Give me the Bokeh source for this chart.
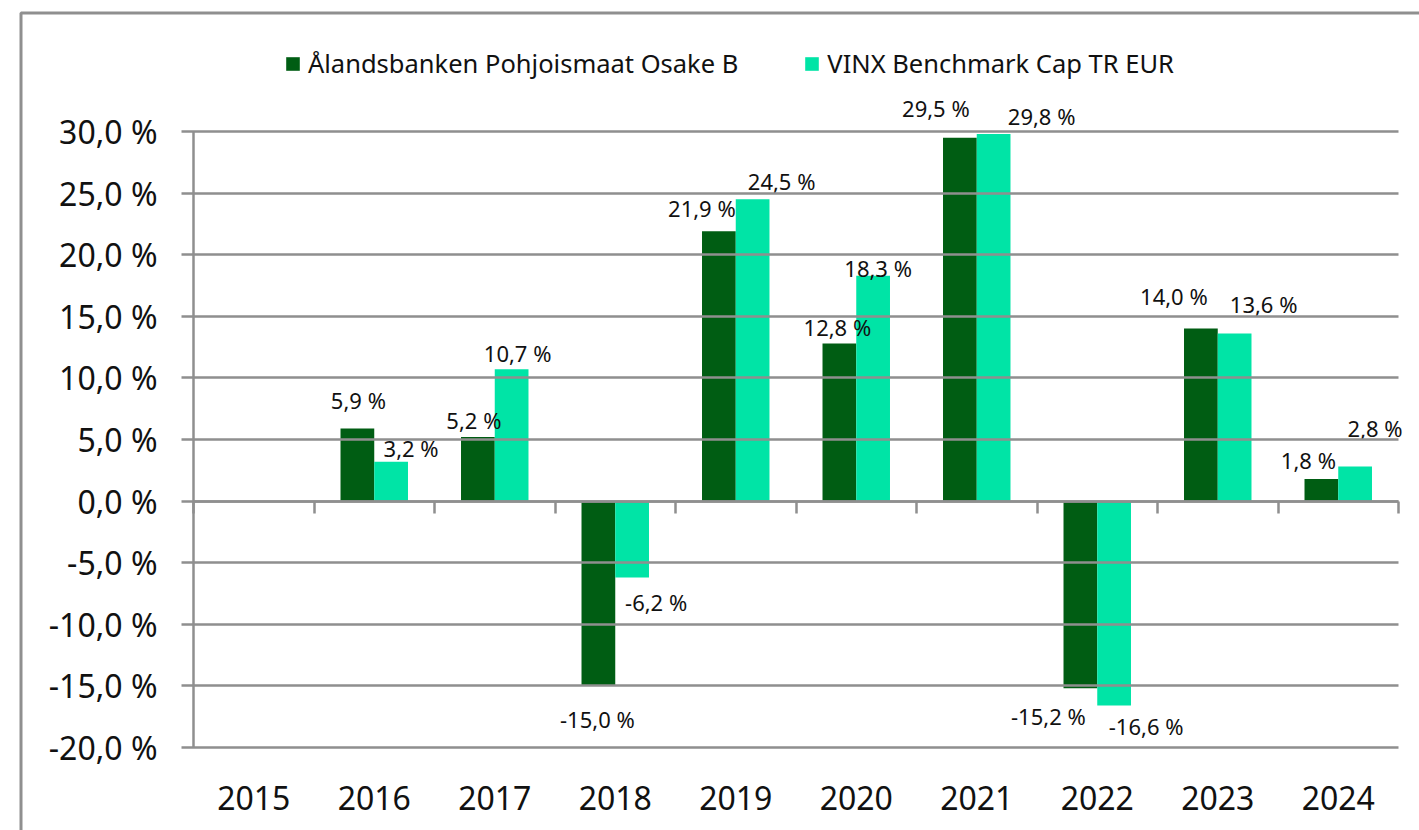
import math
from bokeh.plotting import figure
from bokeh.models import (ColumnDataSource, FixedTicker, LinearAxis, Legend, LegendItem,
                          BoxAnnotation, Range1d)
from bokeh.core.properties import value
from bokeh.embed import file_html
from bokeh.resources import INLINE

years = ["2015", "2016", "2017", "2018", "2019", "2020", "2021", "2022", "2023", "2024"]
fund = [math.nan, 5.9, 5.2, -15.0, 21.9, 12.8, 29.5, -15.2, 14.0, 1.8]
bench = [math.nan, 3.2, 10.7, -6.2, 24.5, 18.3, 29.8, -16.6, 13.6, 2.8]
fund_name = "Ålandsbanken Pohjoismaat Osake B"
bench_name = "VINX Benchmark Cap TR EUR"
y_ticks = [-20, -15, -10, -5, 0, 5, 10, 15, 20, 25, 30]

# label nudges in screen pixels (dx right, dy up) relative to bar end
fund_dx = [0, 1, -4, -1, -17, -2, -24, -32, -27, -13]
fund_dy = [0, 28, 17, -33, 23, 16, 30, -28, 33, 19]
bench_dx = [0, 20, 6, 24, 29, 5, 48, 32, 29, 20]
bench_dy = [0, 14, 16, -25, 18, 8, 18, -20, 30, 39]

DARK = "#005D13"
LIGHT = "#00E4A6"
GRID = "#8f8f8f"
TXT = "#111111"
FONT = "Noto Sans"

# layout (page pixels)
W, H = 1419, 830
PLOT_L, PLOT_R = 193, 1398      # x of category 0 start / category 10 end
Y_TOP_PX, Y_BOT_PX = 131, 747   # pixel of y=30 / y=-20
YMAX, YMIN = 30, -20
NCAT = len(years)
px_per_x = (PLOT_R - PLOT_L) / NCAT
px_per_y = (Y_BOT_PX - Y_TOP_PX) / (YMAX - YMIN)
x0 = -PLOT_L / px_per_x
x1 = (W - PLOT_L) / px_per_x
y1 = YMAX + Y_TOP_PX / px_per_y
y0 = YMAX - (H - Y_TOP_PX) / px_per_y

def fmt(v):
    return ("%.1f" % v).replace(".", ",") + " %"

BW = 0.28
xs = [i + 0.5 for i in range(NCAT)]

def src(vals, off, dx, dy):
    lab = ["" if math.isnan(v) else fmt(v) for v in vals]
    return ColumnDataSource(dict(
        x=[x + off for x in xs], top=vals, label=lab,
        ly=[0 if math.isnan(v) else v for v in vals],
        xo=dx, yo=[-d for d in dy]))

s1 = src(fund, -BW / 2, fund_dx, fund_dy)
s2 = src(bench, BW / 2, bench_dx, bench_dy)

p = figure(frame_width=W, frame_height=H, min_border=0, output_backend="svg",
           toolbar_location=None, x_range=Range1d(x0, x1), y_range=Range1d(y0, y1),
           x_axis_location=None, y_axis_location=None)
p.min_border_left = p.min_border_right = p.min_border_top = p.min_border_bottom = 0
p.outline_line_color = None
p.background_fill_color = "white"
p.border_fill_color = "white"
p.xgrid.visible = False
p.ygrid.visible = False

r1 = p.vbar(x="x", top="top", bottom=0, width=BW, source=s1, fill_color=DARK, line_color=None)
r2 = p.vbar(x="x", top="top", bottom=0, width=BW, source=s2, fill_color=LIGHT, line_color=None)

for s in (s1, s2):
    p.text(x="x", y="ly", text="label", source=s, x_offset="xo", y_offset="yo",
           text_align="center", text_baseline="middle", text_font=value(FONT),
           text_font_size="22px", text_color=TXT)

# y axis at x=0; its inward ticks act as the horizontal gridlines
yax = LinearAxis(ticker=FixedTicker(ticks=y_ticks), fixed_location=0, bounds=(YMIN, YMAX))
yax.major_label_overrides = {t: fmt(float(t)) for t in y_ticks}
yax.axis_line_color = GRID
yax.axis_line_width = 2.5
yax.major_tick_line_color = GRID
yax.major_tick_line_width = 2.5
yax.major_tick_out = 12
yax.major_tick_in = PLOT_R - PLOT_L
yax.minor_tick_line_color = None
yax.major_label_standoff = 24
yax.major_label_text_font = FONT
yax.major_label_text_font_size = "32px"
yax.major_label_text_color = TXT
p.add_layout(yax, "left")

# zero axis with category boundary ticks
zax = LinearAxis(ticker=FixedTicker(ticks=list(range(0, NCAT + 1))), fixed_location=0,
                 bounds=(0, NCAT))
zax.axis_line_color = GRID
zax.axis_line_width = 2.5
zax.major_tick_line_color = GRID
zax.major_tick_line_width = 2.5
zax.major_tick_out = 12
zax.major_tick_in = 0
zax.minor_tick_line_color = None
zax.major_label_text_font_size = "0px"
zax.major_label_text_color = None
p.add_layout(zax, "below")

# category labels under the bottom gridline
xax = LinearAxis(ticker=FixedTicker(ticks=xs), fixed_location=YMIN, bounds=(0, NCAT))
xax.major_label_overrides = {x: y for x, y in zip(xs, years)}
xax.axis_line_color = None
xax.major_tick_line_color = None
xax.minor_tick_line_color = None
xax.major_label_standoff = 32
xax.major_label_text_font = FONT
xax.major_label_text_font_size = "32px"
xax.major_label_text_color = TXT
p.add_layout(xax, "below")

legend = Legend(items=[LegendItem(label=fund_name, renderers=[r1]),
                       LegendItem(label=bench_name, renderers=[r2])],
                location=(284, H - 80), orientation="horizontal",
                label_text_font=FONT, label_text_font_size="25.5px", label_text_color=TXT,
                glyph_width=17, glyph_height=17, label_standoff=7, spacing=65,
                border_line_color=None, background_fill_alpha=0, padding=0, margin=0)
p.add_layout(legend, "center")

# outer chart border (top and left visible, right/bottom run off the page)
border = BoxAnnotation(left=x0 + 20.5 / px_per_x, top=y1 - 12.5 / px_per_y,
                       right=x1 + 5, bottom=y0 - 5,
                       fill_alpha=0, fill_color=None, line_color=GRID, line_alpha=1.0,
                       line_width=3)
p.add_layout(border)

open("out.html", "w").write(file_html(p, INLINE))
